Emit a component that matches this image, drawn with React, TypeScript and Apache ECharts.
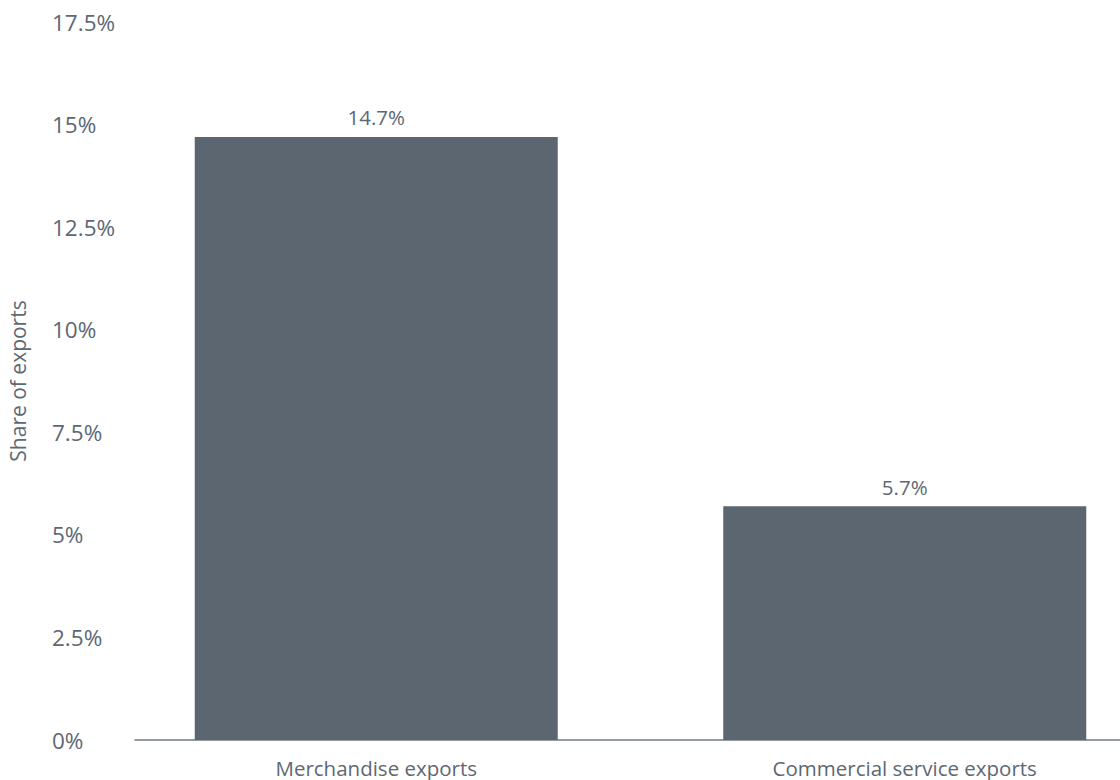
import React, { useEffect, useRef } from "react";
import * as echarts from "echarts";

const categories = ["Merchandise exports", "Commercial service exports"];
const shareValues = [14.7, 5.7];
const yMin = 0;
const yMax = 17.5;
const yInterval = 2.5;
const yAxisName = "Share of exports";

const TEXT = "#5d6873";
const BAR = "#5b6670";
const FONT = "'Open Sans', 'Noto Sans', sans-serif";

export default function App() {
  const ref = useRef<HTMLDivElement>(null);
  useEffect(() => {
    if (!ref.current) return;
    const chart = echarts.init(ref.current, undefined, { renderer: "svg" });
    chart.setOption({
      animation: false,
      backgroundColor: "#ffffff",
      grid: [
        { left: 112, right: 0, top: 22, bottom: 40, outerBoundsMode: "none", containLabel: false },
        { left: 135, right: 49, top: 22, bottom: 40, outerBoundsMode: "none", containLabel: false },
      ],
      xAxis: [
        {
          type: "category",
          gridIndex: 0,
          data: categories,
          axisLine: { show: false },
          axisTick: { show: false },
          axisLabel: { color: TEXT, fontSize: 20.5, fontFamily: FONT, margin: 17 },
        },
        {
          type: "value",
          gridIndex: 1,
          min: 0,
          max: 1,
          axisLine: { show: true, onZero: false, lineStyle: { color: "#6f7a84", width: 1.5 } },
          axisTick: { show: false },
          axisLabel: { show: false },
          splitLine: { show: false },
        },
      ],
      yAxis: [
        {
          type: "value",
          gridIndex: 0,
          min: yMin,
          max: yMax,
          interval: yInterval,
          name: yAxisName,
          nameLocation: "middle",
          nameGap: 84,
          nameTextStyle: { color: TEXT, fontSize: 21, fontFamily: FONT },
          axisLine: { show: false },
          axisTick: { show: false },
          splitLine: { show: false },
          axisLabel: {
            color: TEXT,
            fontSize: 22.5,
            fontFamily: FONT,
            align: "left",
            margin: 60,
            formatter: (v: number) => `${v}%`,
          },
        },
        {
          type: "value",
          gridIndex: 1,
          min: 0,
          max: 1,
          show: false,
        },
      ],
      series: [
        {
          type: "bar",
          xAxisIndex: 0,
          yAxisIndex: 0,
          data: shareValues,
          barWidth: 363,
          itemStyle: { color: BAR },
          label: {
            show: true,
            position: "top",
            distance: 9,
            color: TEXT,
            fontSize: 20.5,
            fontFamily: FONT,
            formatter: (p: any) => `${p.value}%`,
          },
        },
      ],
    });
    return () => chart.dispose();
  }, []);
  return (
    <div
      style={{
        position: "absolute",
        left: 0,
        top: 0,
        width: 1120,
        height: 780,
        overflow: "hidden",
        background: "#ffffff",
      }}
    >
      <div ref={ref} style={{ width: 1169, height: 780 }} />
    </div>
  );
}
